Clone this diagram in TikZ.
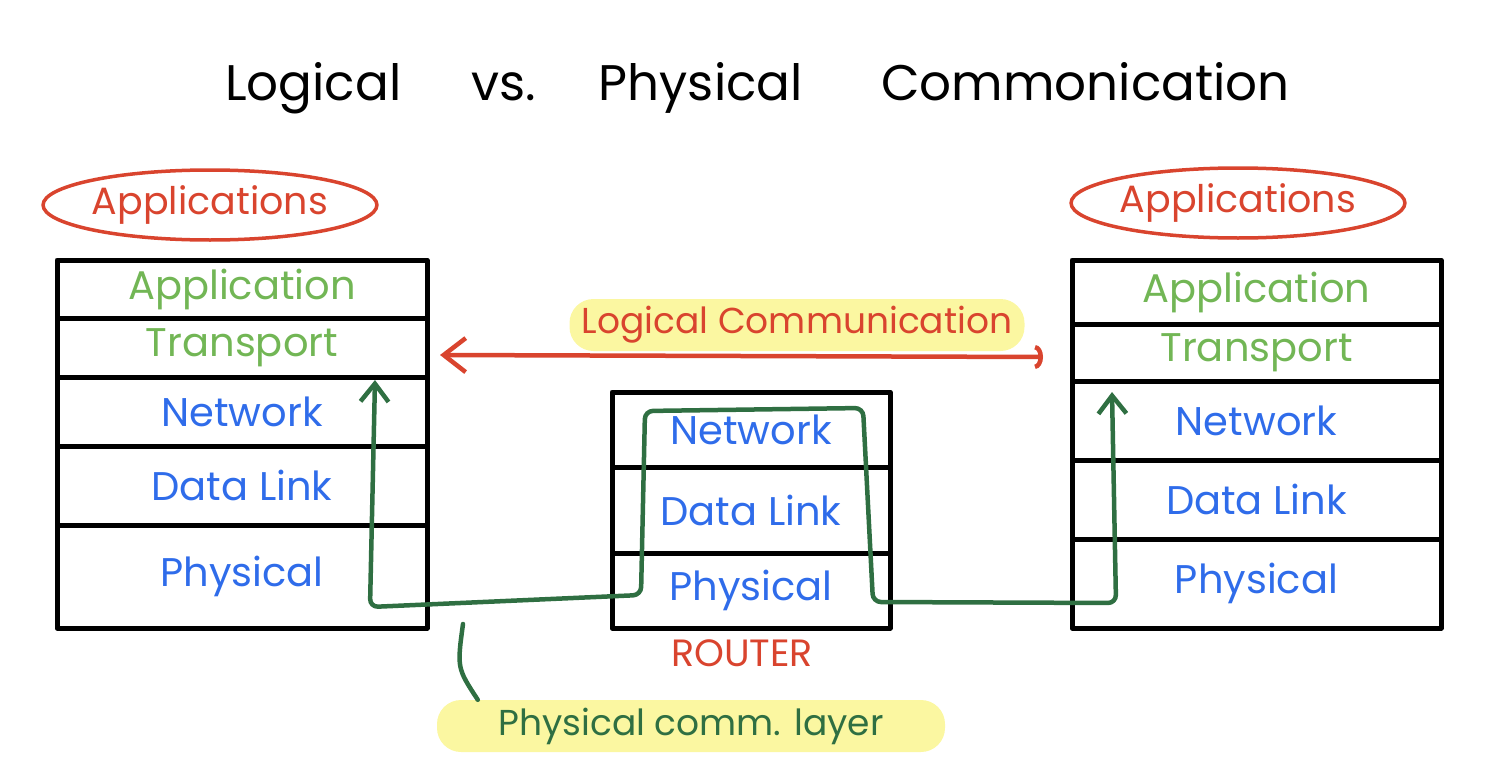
\documentclass[tikz,border=0pt]{standalone}
\usepackage{fontspec}
\setmainfont{Poppins}
\usetikzlibrary{positioning,arrows.meta,shapes.geometric}
\definecolor{inkred}{HTML}{D9442E}
\definecolor{inkgreen}{HTML}{72B655}
\definecolor{inkblue}{HTML}{2F6CEA}
\definecolor{wire}{HTML}{2F6F42}
\definecolor{marker}{HTML}{FBF7A1}

\begin{document}
\begin{tikzpicture}[x=1pt, y=-1pt, line cap=round, line join=round,
    ttl/.style={font=\fontsize{50}{56}\selectfont, inner sep=0pt},
    lay/.style={draw, line width=5pt, outer sep=0pt, inner sep=0pt, font=\fontsize{40}{46}\selectfont},
    up/.style={lay, text=inkgreen},
    lo/.style={lay, text=inkblue},
    app/.style={ellipse, draw=inkred, line width=3.5pt, text=inkred, minimum width=315pt, minimum height=70pt, inner sep=0pt, font=\fontsize{38}{44}\selectfont},
    hl/.style={fill=marker, rounded corners=24pt, minimum height=52pt, inner sep=0pt, font=\fontsize{36}{42}\selectfont},
    barb/.tip={Straight Barb[length=18pt, width=28pt]}]
  \useasboundingbox (0,0) rectangle (1489,768);

  % title
  \node[ttl, anchor=base west] (t1) at (225,100) {Logical};
  \node[ttl, base right=70pt of t1] (t2) {vs.};
  \node[ttl, base right=62pt of t2] (t3) {Physical};
  \node[ttl, base right=78pt of t3] (t4) {Commonication};

  % highlighted labels
  \node[hl, minimum width=455pt, text=inkred] (lc) at (797,325) {Logical Communication};
  \node[hl, minimum width=508pt, text=wire] (pcl) at (691,726) {Physical comm. layer};

  % end hosts
  \node[app] (ap1) at (210,205) {Applications};
  \node[app] (ap2) at (1238,203) {Applications};

  \node[up, minimum width=370pt, minimum height=58pt] (la) at (242,289) {Application};
  \node[up, minimum width=370pt, minimum height=59pt, below=0pt of la] (lt) {Transport};
  \node[lo, minimum width=370pt, minimum height=69pt, below=0pt of lt] (ln) {Network};
  \node[lo, minimum width=370pt, minimum height=79pt, below=0pt of ln] (ld) {Data Link};
  \node[lo, minimum width=370pt, minimum height=103pt, below=0pt of ld] (lp) {Physical};

  \node[up, minimum width=369pt, minimum height=64pt] (ra) at (1256.5,292) {Application};
  \node[up, minimum width=369pt, minimum height=57pt, below=0pt of ra] (rt) {Transport};
  \node[lo, minimum width=369pt, minimum height=79pt, below=0pt of rt] (rn) {Network};
  \node[lo, minimum width=369pt, minimum height=79pt, below=0pt of rn] (rd) {Data Link};
  \node[lo, minimum width=369pt, minimum height=89pt, below=0pt of rd] (rp) {Physical};

  % router
  \node[lo, minimum width=278pt, minimum height=75pt] (mn) at (751,429.5) {Network};
  \node[lo, minimum width=278pt, minimum height=86pt, below=0pt of mn] (md) {Data Link};
  \node[lo, minimum width=278pt, minimum height=75pt, below=0pt of md] (mp) {Physical};
  \node[text=inkred, font=\fontsize{38}{44}\selectfont, inner sep=0pt] (rtr) at (742,653) {ROUTER};

  % logical path
  \coordinate (lcL) at (440,355);
  \coordinate (lcR) at (1043,357);
  \draw[inkred, line width=4.5pt, {Straight Barb[length=22pt, width=34pt]}-{Arc Barb[length=8pt, width=24pt]}] (lcL) -- (lcR);

  % physical path
  \coordinate (g0) at (375,380);
  \coordinate (g1) at (370,607);
  \coordinate (g2) at (641,595);
  \coordinate (g3) at (645,411);
  \coordinate (g4) at (863,408);
  \coordinate (g5) at (873,602);
  \coordinate (g6) at (1116,603);
  \coordinate (g7) at (1112,392);
  \draw[wire, line width=4.5pt, rounded corners=8pt, barb-barb] (g0) -- (g1) -- (g2) -- (g3) -- (g4) -- (g5) -- (g6) -- (g7);

  \coordinate (pt) at (463,624);
  \draw[wire, line width=4.5pt] (pt) .. controls (457,668) .. ([xshift=41pt]pcl.north west);
\end{tikzpicture}
\end{document}
